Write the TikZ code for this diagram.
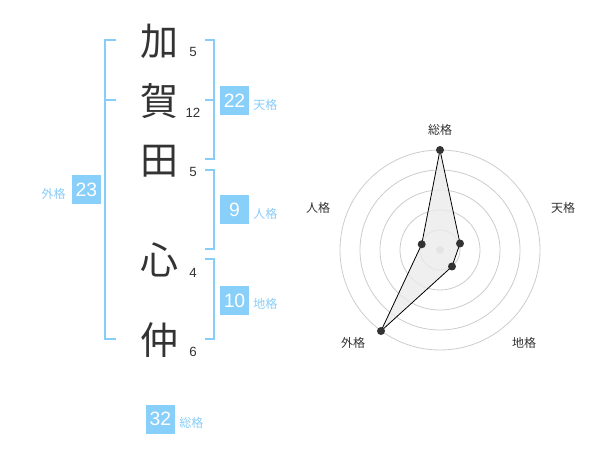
\documentclass[tikz,border=0pt]{standalone}
\usepackage{fontspec}
\setmainfont{Liberation Sans}
\newfontfamily\cjk{Noto Sans CJK JP}
\definecolor{lblue}{HTML}{88CCF8}
\definecolor{bbox}{HTML}{88CFFA}
\definecolor{ink}{HTML}{333333}
\definecolor{ring}{HTML}{CCCCCC}
\begin{document}
\begin{tikzpicture}[x=0.75pt,y=-0.75pt,
  bracket/.style={draw=lblue,line width=1.6pt},
  bigchar/.style={text=ink,font=\cjk\fontsize{28.5}{28.5}\selectfont,inner sep=0pt},
  stroke/.style={text=ink,font=\fontsize{10}{10}\selectfont,inner sep=0pt},
  numbox/.style={fill=bbox,text=white,font=\fontsize{14.5}{14.5}\selectfont,minimum width=21.75pt,minimum height=21.75pt,inner sep=0pt},
  kaku/.style={text=lblue,font=\cjk\fontsize{9}{9}\selectfont,inner sep=0pt},
  axislab/.style={text=ink,font=\cjk\fontsize{9}{9}\selectfont,inner sep=0pt},
  ringline/.style={draw=ring,line width=0.6pt},
  dot/.style={circle,fill=ink,inner sep=0pt,minimum size=6pt}]
\useasboundingbox (0,0) rectangle (600,470);
% characters
\node[bigchar] (c1) at (159,41) {加};
\node[bigchar] (c2) at (159,101) {賀};
\node[bigchar] (c3) at (159,161) {田};
\node[bigchar] (c4) at (159,260) {心};
\node[bigchar] (c5) at (159,340) {仲};
\node[stroke] (s1) at (193,52) {5};
\node[stroke] (s2) at (193,113) {12};
\node[stroke] (s3) at (193,172) {5};
\node[stroke] (s4) at (193,273) {4};
\node[stroke] (s5) at (193,352) {6};
% brackets
\draw[bracket] (116,40) -- (105,40) -- (105,339) -- (116,339);
\draw[bracket] (105,100) -- (116,100);
\draw[bracket] (205,40) -- (214,40) -- (214,159) -- (205,159);
\draw[bracket] (214,100) -- (205,100);
\draw[bracket] (205,170) -- (214,170) -- (214,249) -- (205,249);
\draw[bracket] (205,259) -- (214,259) -- (214,339) -- (205,339);
% boxes
\node[numbox] (ten) at (234.5,100.5) {22};
\node[kaku,anchor=west] (tenl) at (253,105) {天格};
\node[numbox] (jin) at (234.5,210) {9};
\node[kaku,anchor=west] (jinl) at (253,214) {人格};
\node[numbox] (chi) at (234.5,300.5) {10};
\node[kaku,anchor=west] (chil) at (253,304) {地格};
\node[numbox] (gai) at (86.5,190) {23};
\node[kaku,anchor=east] (gail) at (66,194) {外格};
\node[numbox] (sou) at (160.5,419) {32};
\node[kaku,anchor=west] (soul) at (179,423) {総格};
% radar
\coordinate (O) at (440,250);
\foreach \r in {20,40,60,80,100} \draw[ringline] (O) circle[radius=\r];
\fill[ring] (O) circle[radius=4];
\path (O) ++(0,-100) coordinate (pS)
      (O) ++(20,-6.5) coordinate (pT)
      (O) ++(12,16.5) coordinate (pC)
      (O) ++(-59,81) coordinate (pG)
      (O) ++(-18.3,-5.7) coordinate (pJ);
\draw[draw=black,line width=0.6pt,fill=black!8,fill opacity=0.8] (pS) -- (pT) -- (pC) -- (pG) -- (pJ) -- cycle;
\foreach \p in {pS,pT,pC,pG,pJ} \node[dot] at (\p) {};
\node[axislab] (aS) at (440,130) {総格};
\node[axislab] (aT) at (563,208) {天格};
\node[axislab] (aC) at (524,343) {地格};
\node[axislab] (aG) at (353,343) {外格};
\node[axislab] (aJ) at (318,208) {人格};
\end{tikzpicture}
\end{document}
